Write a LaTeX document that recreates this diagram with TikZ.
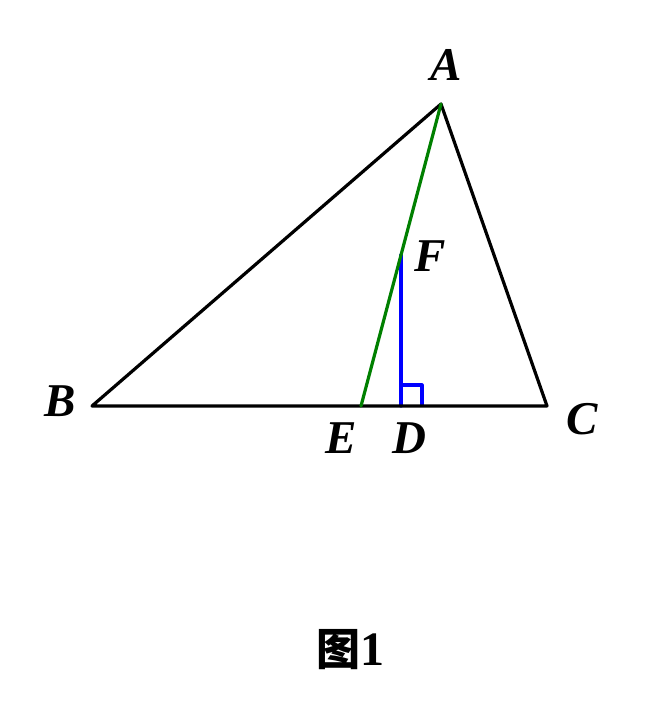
\documentclass[tikz,border=0pt]{standalone}
\usepackage{fontspec}
\setmainfont{Liberation Serif}
\newfontfamily\cjk{Noto Sans CJK SC}
\begin{document}
\begin{tikzpicture}[x=1pt,y=-1pt,
  edge/.style={line width=3.2pt,line cap=round,line join=round},
  lbl/.style={inner sep=0pt,font=\fontsize{47}{47}\selectfont\bfseries\itshape}]
\useasboundingbox (0,0) rectangle (648,720);
\coordinate (A) at (441,104);
\coordinate (B) at (92,406);
\coordinate (C) at (547,406);
\coordinate (E) at (361,406);
\coordinate (D) at (401,406);
\coordinate (F) at (401,255);
\coordinate (R1) at (401,385);
\coordinate (R2) at (422,385);
\coordinate (R3) at (422,406);
\draw[edge,blue] (D) -- (F);
\draw[edge,blue,line cap=butt] (R1) -- (R2) -- (R3);
\draw[edge] (B) -- (A) -- (C) -- cycle;
\draw[edge,green!50!black] (A) -- (E);
\node[lbl] (lA) at (446,65) {A};
\node[lbl] (lB) at (60,401) {B};
\node[lbl] (lC) at (582,419) {C};
\node[lbl] (lE) at (341,438) {E};
\node[lbl] (lD) at (409,438) {D};
\node[lbl] (lF) at (430,256) {F};
\node[inner sep=0pt] (cap) at (350,650) {{\fontsize{44}{44}\selectfont\cjk\bfseries 图}{\fontsize{48}{48}\selectfont\bfseries 1}};
\end{tikzpicture}
\end{document}
